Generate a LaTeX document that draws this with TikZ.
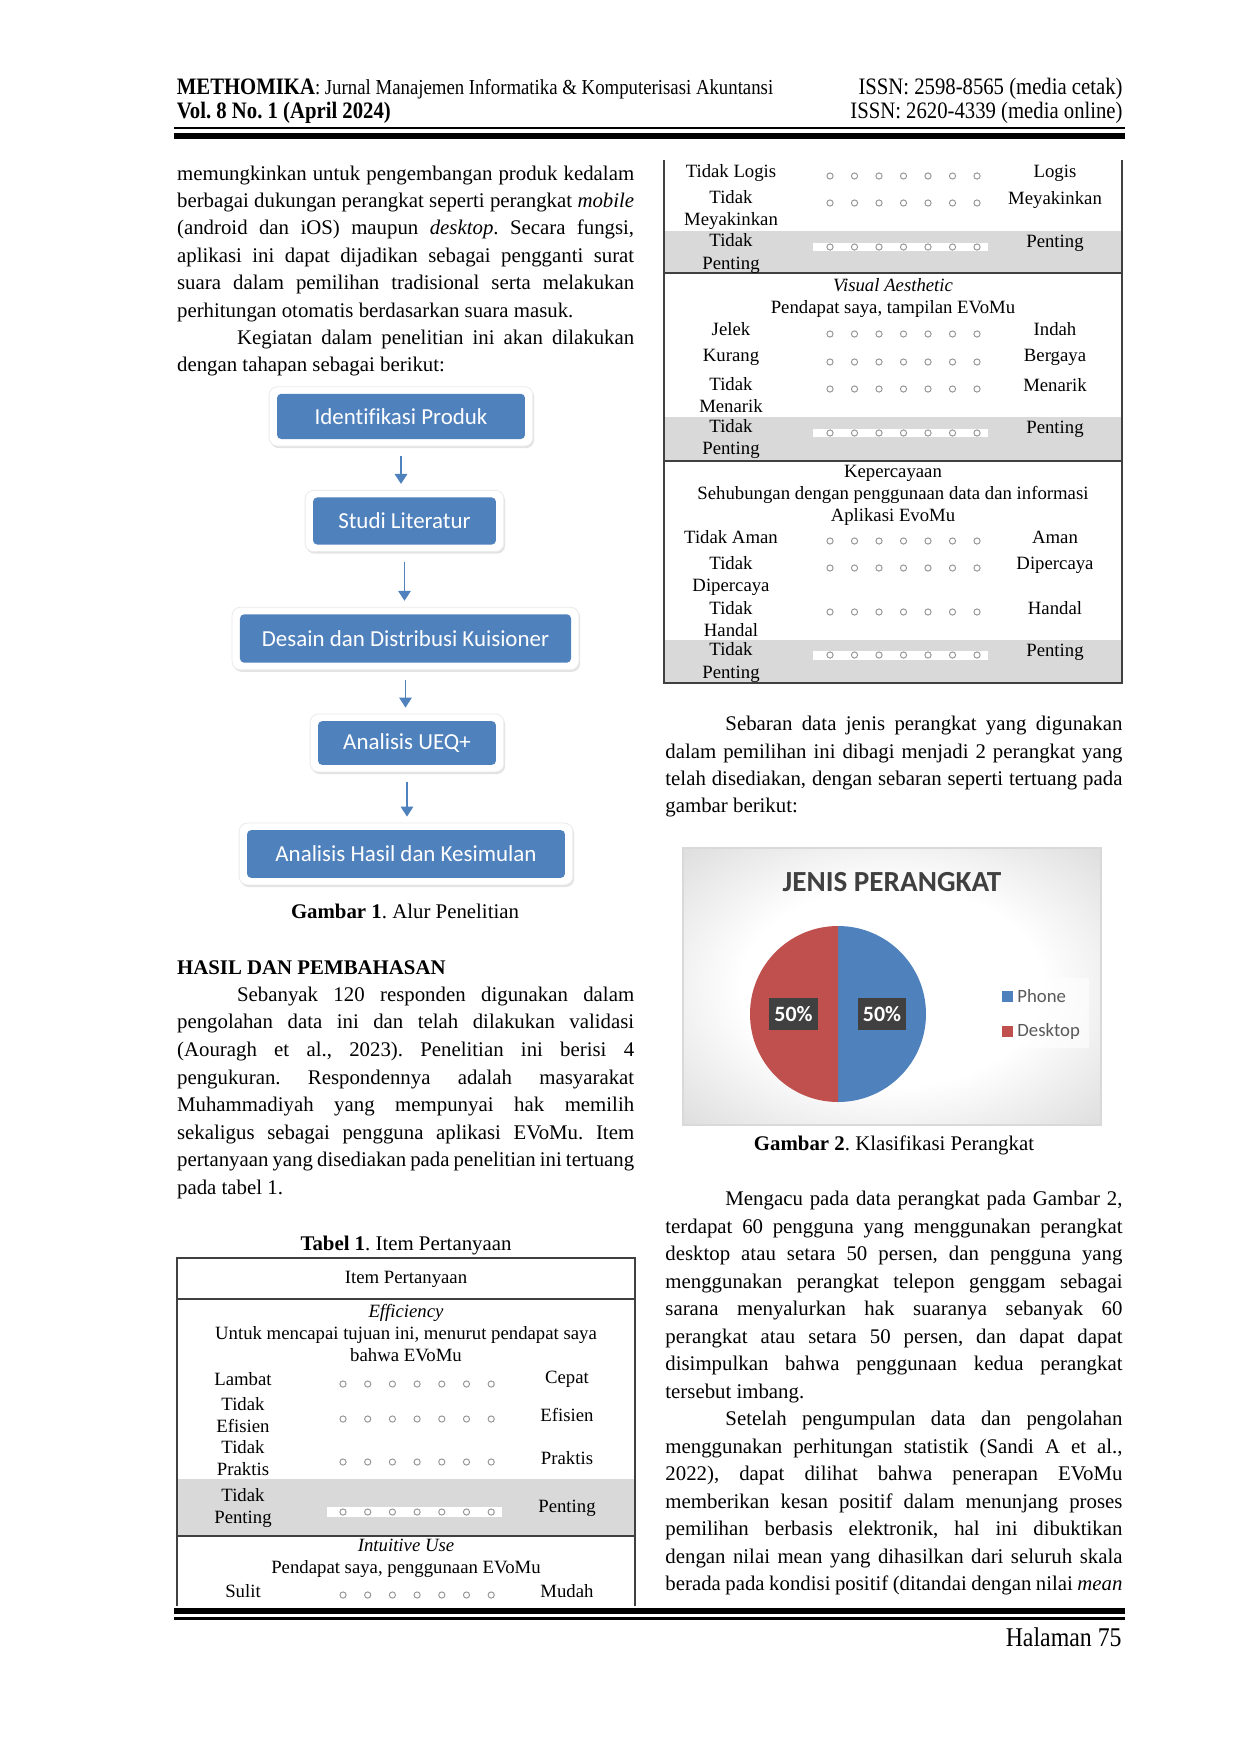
\documentclass[tikz,border=0pt]{standalone}
\usepackage{fontspec}
\setmainfont{Liberation Serif}
\newfontfamily\hdrfont[FakeStretch=0.88]{Liberation Serif}
\newfontfamily\boxfont[Ligatures=NoCommon]{Carlito}
\usetikzlibrary{arrows.meta}
\usetikzlibrary{backgrounds}
\usetikzlibrary{fit}
\usetikzlibrary{shadows}
\definecolor{boxblue}{HTML}{4F81BD}
\definecolor{piered}{HTML}{C0504D}
\definecolor{bandgray}{HTML}{D9D9D9}
\tolerance=9999
\hyphenpenalty=10000
\frenchspacing
\newlength{\indw}\setlength{\indw}{28.8pt}
\tikzset{body/.style={anchor=base west, inner sep=0pt, text width=219.4pt, align=justify, font=\fontsize{10}{13.15}\selectfont}}
\tikzset{captext/.style={anchor=base, inner sep=0pt, font=\fontsize{10}{12}\selectfont}}
\tikzset{hdr/.style={inner sep=0pt, font=\hdrfont\fontsize{11.3}{13}\selectfont}}
\tikzset{tab/.style={inner sep=0pt, align=center, font=\fontsize{9}{10.6}\selectfont}}
\tikzset{tabline/.style={draw=black!75, line width=0.7pt}}
\tikzset{likertdot/.style={draw=black!42, line width=0.45pt}}
\tikzset{stepbox/.style={fill=boxblue, text=white, rounded corners=2pt, inner sep=0pt, font=\boxfont\fontsize{11}{13}\selectfont}}
\tikzset{halo/.style={fill=white, draw=black!8, rounded corners=4pt, inner xsep=3.6pt, inner ysep=3.2pt, drop shadow={opacity=0.22, shadow xshift=0.6pt, shadow yshift=-1pt}}}
\tikzset{flowarrow/.style={-{Triangle[width=6pt,length=4.8pt]}, draw=boxblue, line width=0.8pt, shorten <=4.6pt, shorten >=2.9pt}}
\tikzset{lblbox/.style={fill=black!75, text=white, inner sep=0pt, minimum width=23.5pt, minimum height=15.4pt, font=\boxfont\bfseries\fontsize{10.5}{12}\selectfont}}
\tikzset{legtxt/.style={anchor=west, inner sep=0pt, text=black!65, font=\boxfont\fontsize{9}{11}\selectfont}}
\pgfdeclareradialshading{chartglow}{\pgfpoint{0bp}{0bp}}{color(0bp)=(white); color(18bp)=(white); color(50bp)=(black!24); color(70bp)=(black!24)}
\newcommand{\likert}[3]{\foreach \k in {0,...,6} \draw[likertdot] ({#1+#3*\k},#2) circle[radius=3.1];}

\begin{document}
\begin{tikzpicture}[x=0.48pt,y=-0.48pt]
  \useasboundingbox (0,0) rectangle (1240,1752);
  \begin{scope}[on background layer]
    \fill[white] (0,0) rectangle (1240,1752);
  \end{scope}

  % header
  \node[hdr, anchor=base west] (jname) at (176.5,95) {\textbf{METHOMIKA}{\fontsize{10.25}{12}\selectfont: Jurnal Manajemen Informatika \& Komputerisasi Akuntansi}};
  \node[hdr, anchor=base west] (vol) at (176.5,119) {\textbf{Vol. 8 No. 1 (April 2024)}};
  \node[hdr, anchor=base east] (issnp) at (1123,95) {ISSN: 2598-8565 (media cetak)};
  \node[hdr, anchor=base east] (issno) at (1123,119) {ISSN: 2620-4339 (media online)};
  \fill (174,126.7) rectangle (1125,128.6);
  \fill (174,133.3) rectangle (1125,139);

  % left column
  \node[body] (introtext) at (176.7,180.2) {memungkinkan untuk pengembangan produk kedalam\linebreak berbagai dukungan perangkat seperti perangkat \textit{mobile}\linebreak (android dan iOS) maupun \textit{desktop}. Secara fungsi,\linebreak aplikasi ini dapat dijadikan sebagai pengganti surat\linebreak suara dalam pemilihan tradisional serta melakukan\linebreak perhitungan otomatis berdasarkan suara masuk.\par
    \hspace*{\indw}Kegiatan dalam penelitian ini akan dilakukan\linebreak dengan tahapan sebagai berikut:};

  % alur penelitian
  \node[stepbox, minimum width=119pt, minimum height=21.7pt] (ident) at (401,416.4) {Identifikasi Produk};
  \node[stepbox, minimum width=87.8pt, minimum height=22.6pt] (studi) at (404.5,521) {Studi Literatur};
  \node[stepbox, minimum width=158.9pt, minimum height=23.2pt] (desain) at (405.5,638.5) {Desain dan Distribusi Kuisioner};
  \node[stepbox, minimum width=85.4pt, minimum height=21pt] (ueq) at (407,743) {Analisis UEQ+};
  \node[stepbox, minimum width=152.6pt, minimum height=22.9pt] (hasil) at (406,854) {Analisis Hasil dan Kesimulan};
  \begin{scope}[on background layer]
    \foreach \n in {ident,studi,desain,ueq,hasil}
      \node[halo, fit=(\n)] (\n-halo) {};
  \end{scope}
  \draw[flowarrow] (ident-halo.south) -- (ident-halo.south |- studi-halo.north);
  \draw[flowarrow] (studi-halo.south) -- (studi-halo.south |- desain-halo.north);
  \draw[flowarrow] (desain-halo.south) -- (desain-halo.south |- ueq-halo.north);
  \draw[flowarrow] (ueq-halo.south) -- (ueq-halo.south |- hasil-halo.north);
  \node[captext] (fig1cap) at (405,918) {\textbf{Gambar 1}. Alur Penelitian};

  \node[body, anchor=base west] (hasilhead) at (176.7,974) {\textbf{HASIL DAN PEMBAHASAN}};
  \node[body, font=\fontsize{10}{13.25}\selectfont] (hasiltext) at (176.7,1001.3) {\hspace*{\indw}Sebanyak 120 responden digunakan dalam\linebreak pengolahan data ini dan telah dilakukan validasi\linebreak (Aouragh et al., 2023). Penelitian ini berisi 4\linebreak pengukuran. Respondennya adalah masyarakat\linebreak Muhammadiyah yang mempunyai hak memilih\linebreak sekaligus sebagai pengguna aplikasi EVoMu. Item\linebreak pertanyaan yang disediakan pada penelitian ini tertuang\linebreak pada tabel 1.};

  % tabel 1, kolom kiri
  \node[captext] (tab1cap) at (406,1250) {\textbf{Tabel 1}. Item Pertanyaan};
  \fill[bandgray] (177,1479) rectangle (635,1536);
  \fill[white] (327,1507) rectangle (502,1517);
  \draw[tabline] (177,1606) -- (177,1258) -- (635,1258) -- (635,1606);
  \draw[tabline, line width=0.9pt] (177,1299) -- (635,1299);
  \draw[tabline] (177,1536) -- (635,1536);
  \node[tab] (itemhead) at (406,1279) {Item Pertanyaan};
  \node[tab] (effhead) at (406,1333) {\textit{Efficiency}\\Untuk mencapai tujuan ini, menurut pendapat saya\\bahwa EVoMu};
  \node[tab] (lambat) at (243,1379) {Lambat}; \likert{343}{1384}{24.7}
  \node[tab] (cepat) at (567,1379) {Cepat};
  \node[tab] (tefisien) at (243,1415) {Tidak\\Efisien}; \likert{343}{1419}{24.7}
  \node[tab] (efisien) at (567,1415) {Efisien};
  \node[tab] (tpraktis) at (243,1458) {Tidak\\Praktis}; \likert{343}{1462}{24.7}
  \node[tab] (praktis) at (567,1458) {Praktis};
  \node[tab] (tpenting1) at (243,1508) {Tidak\\Penting}; \likert{343}{1512}{24.7}
  \node[tab] (penting1) at (567,1508) {Penting};
  \node[tab] (intuhead) at (406,1558) {\textit{Intuitive Use}\\Pendapat saya, penggunaan EVoMu};
  \node[tab] (sulit) at (243,1591) {Sulit}; \likert{343}{1595}{24.7}
  \node[tab] (mudah) at (567,1591) {Mudah};

  % tabel 1, kolom kanan
  \fill[bandgray] (664,231) rectangle (1122,273);
  \fill[bandgray] (664,417) rectangle (1122,461);
  \fill[bandgray] (664,640) rectangle (1122,683);
  \fill[white] (813,243) rectangle (988,251);
  \fill[white] (813,429) rectangle (988,437);
  \fill[white] (813,651) rectangle (988,660);
  \draw[tabline] (664,160) -- (664,683) -- (1122,683) -- (1122,160);
  \draw[tabline] (664,273) -- (1122,273);
  \draw[tabline] (664,461) -- (1122,461);
  \node[tab] (tlogis) at (731,173) {Tidak Logis}; \likert{830}{176}{24.5}
  \node[tab] (logis) at (1055,173) {Logis};
  \node[tab] (tyakin) at (731,210) {Tidak\\Meyakinkan}; \likert{830}{203}{24.5}
  \node[tab] (yakin) at (1055,200) {Meyakinkan};
  \node[tab] (tpenting2) at (731,253.5) {Tidak\\Penting}; \likert{830}{247}{24.5}
  \node[tab] (penting2) at (1055,243) {Penting};
  \node[tab] (vishead) at (893,298) {\textit{Visual Aesthetic}\\Pendapat saya, tampilan EVoMu};
  \node[tab] (jelek) at (731,329) {Jelek}; \likert{830}{334}{24.5}
  \node[tab] (indah) at (1055,329) {Indah};
  \node[tab] (kurang) at (731,357) {Kurang}; \likert{830}{362}{24.5}
  \node[tab] (bergaya) at (1055,357) {Bergaya};
  \node[tab] (tmenarik) at (731,395.5) {Tidak\\Menarik}; \likert{830}{389}{24.5}
  \node[tab] (menarik) at (1055,385) {Menarik};
  \node[tab] (tpenting3) at (731,439) {Tidak\\Penting}; \likert{830}{433}{24.5}
  \node[tab] (penting3) at (1055,429) {Penting};
  \node[tab] (perchead) at (893,495.5) {Kepercayaan\\Sehubungan dengan penggunaan data dan informasi\\Aplikasi EvoMu};
  \node[tab] (taman) at (731,537) {Tidak Aman}; \likert{830}{541}{24.5}
  \node[tab] (aman) at (1055,537) {Aman};
  \node[tab] (tpercaya) at (731,576) {Tidak\\Dipercaya}; \likert{830}{568}{24.5}
  \node[tab] (percaya) at (1055,565) {Dipercaya};
  \node[tab] (thandal) at (731,619) {Tidak\\Handal}; \likert{830}{612}{24.5}
  \node[tab] (handal) at (1055,608) {Handal};
  \node[tab] (tpenting4) at (731,662.5) {Tidak\\Penting}; \likert{830}{655}{24.5}
  \node[tab] (penting4) at (1055,652) {Penting};

  % right column
  \node[body, font=\fontsize{10}{13.15}\selectfont] (sebarantext) at (665,730.7) {\hspace*{\indw}Sebaran data jenis perangkat yang digunakan\linebreak dalam pemilihan ini dibagi menjadi 2 perangkat yang\linebreak telah disediakan, dengan sebaran seperti tertuang pada\linebreak gambar berikut:};

  % jenis perangkat
  \shade[shading=chartglow] (683,848) rectangle (1101,1125);
  \draw[black!15, line width=0.6pt] (683,848) rectangle (1101,1125);
  \node[anchor=base, inner sep=0pt, text=black!75, font=\boxfont\bfseries\fontsize{14}{16}\selectfont] (charttitle) at (892,891.7) {JENIS PERANGKAT};
  \fill[boxblue] (838,926) arc[start angle=-90, end angle=90, radius=88] -- cycle;
  \fill[piered] (838,926) arc[start angle=-90, end angle=-270, radius=88] -- cycle;
  \node[lblbox] (pctdesk) at (793.5,1014) {50\%};
  \node[lblbox] (pctphone) at (882,1014) {50\%};
  \fill[white, opacity=0.6] (992,978) rectangle (1089,1048);
  \fill[boxblue] (1002,991) rectangle (1013,1002);
  \fill[piered] (1002,1026) rectangle (1013,1037);
  \node[legtxt] (legphone) at (1017,996.5) {Phone};
  \node[legtxt] (legdesk) at (1017,1031.5) {Desktop};
  \node[captext] (fig2cap) at (894,1150) {\textbf{Gambar 2}. Klasifikasi Perangkat};

  \node[body, font=\fontsize{10}{13.2}\selectfont] (mengacutext) at (665,1205.5) {\hspace*{\indw}Mengacu pada data perangkat pada Gambar 2,\linebreak terdapat 60 pengguna yang menggunakan perangkat\linebreak desktop atau setara 50 persen, dan pengguna yang\linebreak menggunakan perangkat telepon genggam sebagai\linebreak sarana menyalurkan hak suaranya sebanyak 60\linebreak perangkat atau setara 50 persen, dan dapat dapat\linebreak disimpulkan bahwa penggunaan kedua perangkat\linebreak tersebut imbang.\par
    \hspace*{\indw}Setelah pengumpulan data dan pengolahan\linebreak menggunakan perhitungan statistik (Sandi A et al.,\linebreak 2022), dapat dilihat bahwa penerapan EVoMu\linebreak memberikan kesan positif dalam menunjang proses\linebreak pemilihan berbasis elektronik, hal ini dibuktikan\linebreak dengan nilai mean yang dihasilkan dari seluruh skala\linebreak berada pada kondisi positif (ditandai dengan nilai \textit{mean}\parfillskip=0pt\par};

  % footer
  \fill (174,1608) rectangle (1125,1614);
  \fill (174,1617.3) rectangle (1125,1619.6);
  \node[hdr, anchor=base east, font=\hdrfont\fontsize{13}{15}\selectfont] (pagenum) at (1122,1646) {Halaman 75};
\end{tikzpicture}
\end{document}
